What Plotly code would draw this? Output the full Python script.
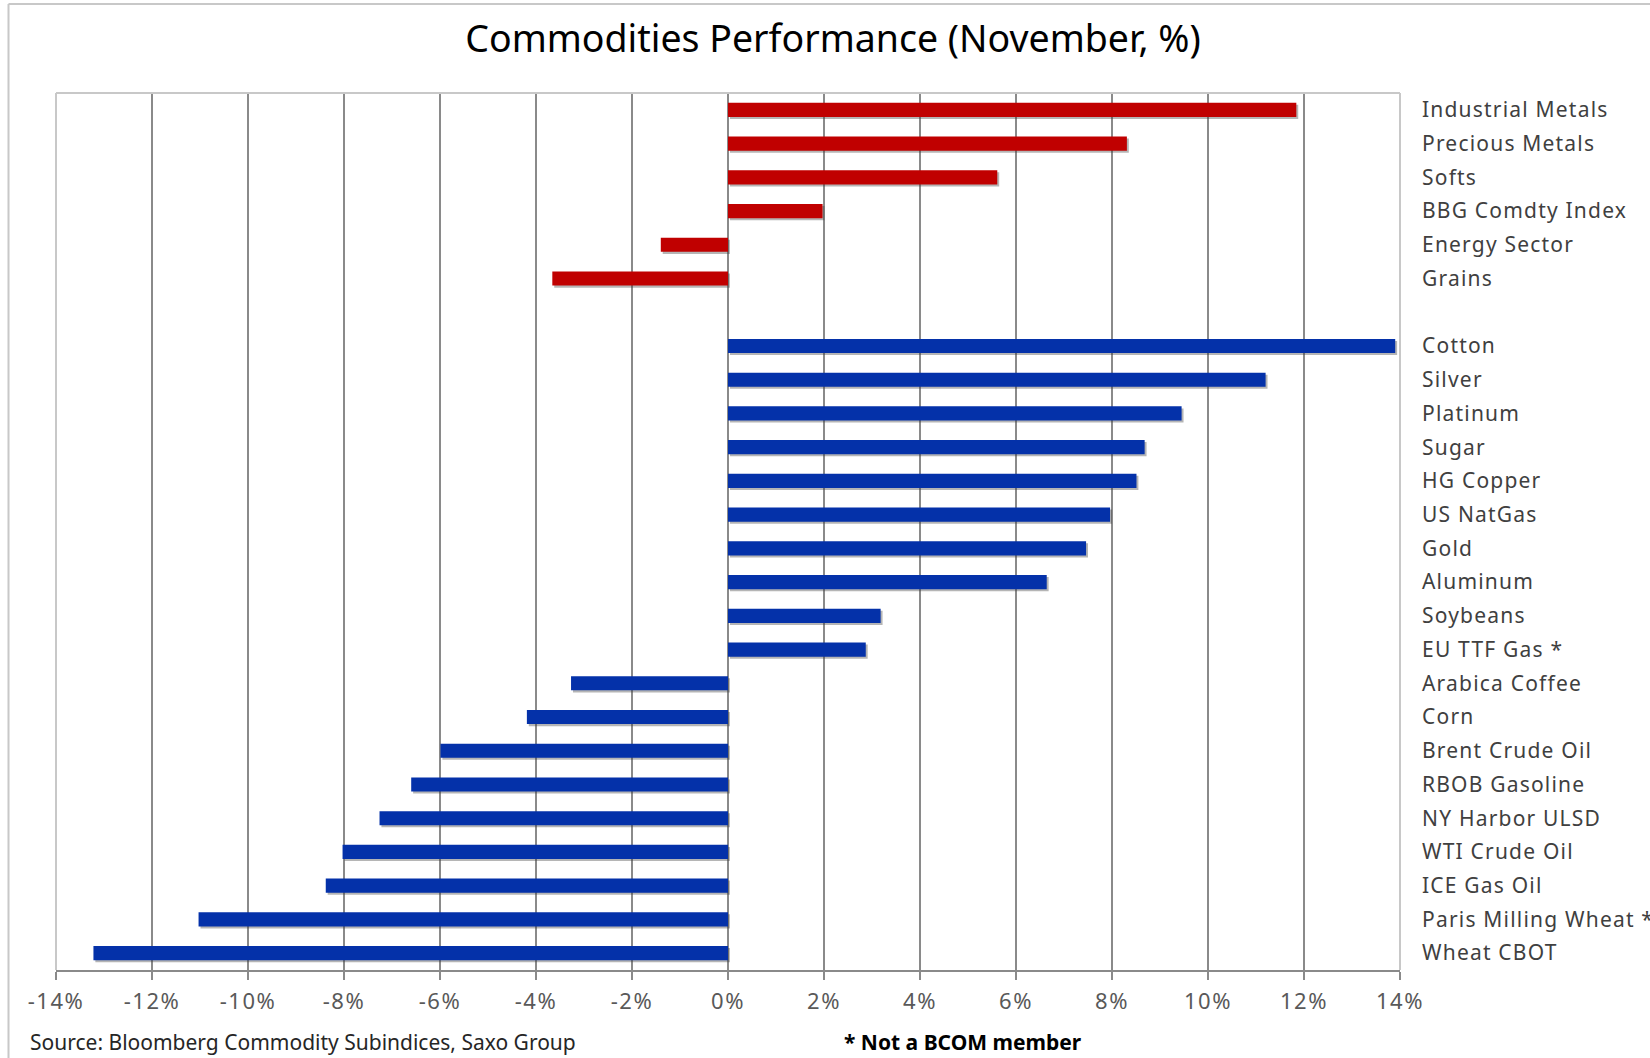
import plotly.graph_objects as go

# ---- data ----
categories = [
    "Industrial Metals", "Precious Metals", "Softs", "BBG Comdty Index",
    "Energy Sector", "Grains", " ",
    "Cotton", "Silver", "Platinum", "Sugar", "HG Copper", "US NatGas", "Gold",
    "Aluminum", "Soybeans", "EU TTF Gas *", "Arabica Coffee", "Corn",
    "Brent Crude Oil", "RBOB Gasoline", "NY Harbor ULSD", "WTI Crude Oil",
    "ICE Gas Oil", "Paris Milling Wheat *", "Wheat CBOT",
]
sector_names = ["Industrial Metals", "Precious Metals", "Softs", "BBG Comdty Index",
                "Energy Sector", "Grains"]
sector_values = [11.84, 8.31, 5.61, 1.97, -1.40, -3.66]

commodity_names = [
    "Cotton", "Silver", "Platinum", "Sugar", "HG Copper", "US NatGas", "Gold",
    "Aluminum", "Soybeans", "EU TTF Gas *", "Arabica Coffee", "Corn",
    "Brent Crude Oil", "RBOB Gasoline", "NY Harbor ULSD", "WTI Crude Oil",
    "ICE Gas Oil", "Paris Milling Wheat *", "Wheat CBOT",
]
commodity_values = [13.90, 11.20, 9.45, 8.68, 8.51, 7.96, 7.46, 6.64, 3.18, 2.87,
                    -3.27, -4.19, -5.99, -6.60, -7.26, -8.03, -8.38, -11.03, -13.22]

x_tickvals = [-14, -12, -10, -8, -6, -4, -2, 0, 2, 4, 6, 8, 10, 12, 14]
x_ticktext = [f"{v}%" for v in x_tickvals]

title_text = "Commodities Performance (November, %)"
source_text = "Source: Bloomberg Commodity Subindices, Saxo Group"
note_text = "<b>* Not a BCOM member</b>"

# ---- style ----
W, H = 1650, 1058
ML, MR, MT, MB = 56, 250, 93, 88
RED = "#C00000"
BLUE = "#0431A9"
BAR_W = 0.42
SHADOW_DY = 0.06
SHADOW_DX = 0.04
SHADOW = "rgba(60,60,60,0.38)"
FONT = "Noto Sans"
FRAME = "#C8C8C8"

fig = go.Figure()

for names, vals, col in [(sector_names, sector_values, RED),
                         (commodity_names, commodity_values, BLUE)]:
    fig.add_trace(go.Bar(
        y=names, x=vals, orientation="h", base=SHADOW_DX,
        width=BAR_W, offset=-BAR_W / 2 + SHADOW_DY,
        marker=dict(color=SHADOW, line=dict(width=0)),
        hoverinfo="skip", showlegend=False,
    ))
    fig.add_trace(go.Bar(
        y=names, x=vals, orientation="h",
        width=BAR_W, offset=-BAR_W / 2,
        marker=dict(color=col, line=dict(width=0)),
        showlegend=False,
    ))

pw = W - ML - MR
ph = H - MT - MB


def px_x(px):
    return (px - ML) / pw


def px_y(py):
    return (H - MB - py) / ph


shapes = [
    # white cover over the 0 grid line, then dotted zero line
    dict(type="line", xref="x", yref="paper", x0=0, x1=0, y0=0, y1=1,
         line=dict(color="white", width=2), layer="between"),
    dict(type="line", xref="x", yref="paper", x0=0, x1=0, y0=0, y1=1,
         line=dict(color="#7F7F7F", width=1.5, dash="dot"), layer="between"),
    # plot frame (light)
    dict(type="line", xref="paper", yref="paper", x0=0, x1=1, y0=1, y1=1,
         line=dict(color=FRAME, width=2)),
    dict(type="line", xref="paper", yref="paper", x0=1, x1=1, y0=0, y1=1,
         line=dict(color=FRAME, width=2)),
    dict(type="line", xref="paper", yref="paper", x0=0, x1=0, y0=0, y1=1,
         line=dict(color=FRAME, width=2)),
    # outer chart frame (left & top visible)
    dict(type="line", xref="paper", yref="paper",
         x0=px_x(8.5), x1=px_x(8.5), y0=px_y(H + 10), y1=px_y(4),
         line=dict(color=FRAME, width=2)),
    dict(type="line", xref="paper", yref="paper",
         x0=px_x(8.5), x1=px_x(W + 10), y0=px_y(4), y1=px_y(4),
         line=dict(color=FRAME, width=2)),
]

fig.update_layout(
    width=W, height=H,
    margin=dict(l=ML, r=MR, t=MT, b=MB, autoexpand=False),
    paper_bgcolor="white", plot_bgcolor="white",
    barmode="overlay",
    font=dict(family=FONT, color="#404040"),
    title=dict(text=title_text, x=833 / W, xanchor="center", xref="container",
               y=1 - 39 / H, yanchor="middle", yref="container",
               font=dict(family=FONT, size=37.5, color="#000000")),
    shapes=shapes,
    xaxis=dict(
        range=[-14, 14], tickvals=x_tickvals, ticktext=x_ticktext,
        showgrid=True, gridcolor="#8A8A8A", gridwidth=1.5,
        zeroline=False, showline=True, linecolor="#8A8A8A", linewidth=2,
        ticks="outside", ticklen=8, tickcolor="#8A8A8A", tickwidth=1.5,
        tickfont=dict(family=FONT, size=22, color="#595959"),
        ticklabelstandoff=3,
        fixedrange=True,
    ),
    yaxis=dict(
        type="category", categoryorder="array", categoryarray=categories,
        range=[len(categories) - 0.5, -0.5],
        side="right", showgrid=False, zeroline=False, showline=False,
        ticks="", tickvals=categories, ticktext=categories,
        tickfont=dict(family=FONT, size=21, color="#404040"),
        ticklabelstandoff=21,
        fixedrange=True,
    ),
    annotations=[
        dict(text=source_text, xref="paper", yref="paper",
             x=px_x(28), y=px_y(1042),
             xanchor="left", yanchor="middle", showarrow=False,
             font=dict(family=FONT, size=21, color="#262626")),
        dict(text=note_text, xref="paper", yref="paper",
             x=px_x(842), y=px_y(1042),
             xanchor="left", yanchor="middle", showarrow=False,
             font=dict(family=FONT, size=21, color="#000000")),
    ],
)

post = """
(function(){
  document.body.style.margin = '0';
  document.body.style.overflow = 'hidden';
  var gd = document.getElementById('{plot_id}');
  function apply(){
    gd.querySelectorAll('.ytick text').forEach(function(t){ t.style.letterSpacing = '1.2px'; });
    gd.querySelectorAll('.xtick text').forEach(function(t){ t.style.letterSpacing = '1.5px'; });
  }
  apply();
  if (gd.on) { gd.on('plotly_afterplot', apply); }
  setTimeout(apply, 50);
})();
"""

fig.write_html("out.html", post_script=post, config={"displayModeBar": False})
